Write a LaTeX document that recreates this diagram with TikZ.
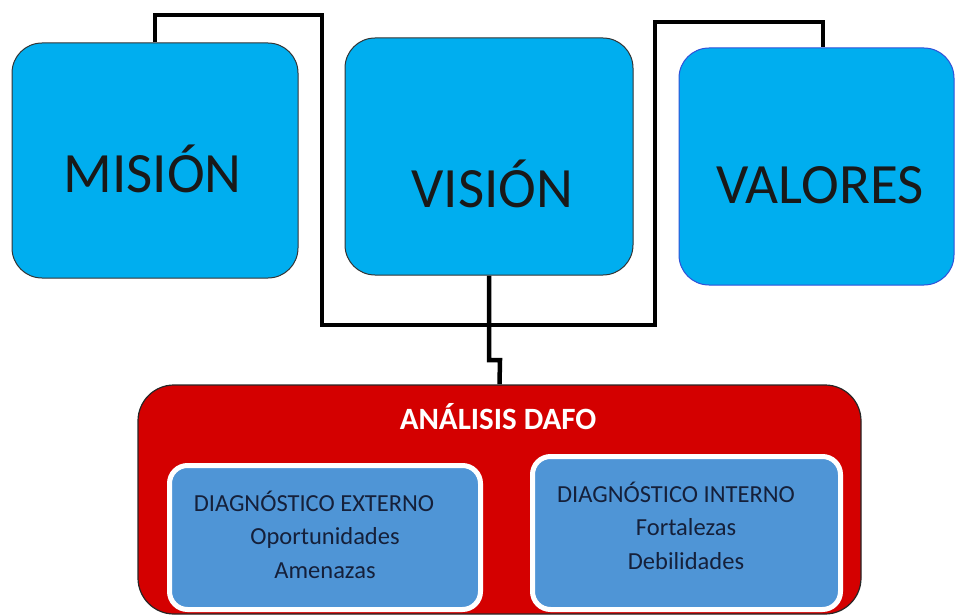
\documentclass[tikz,border=0pt]{standalone}
\usepackage{fontspec}
\setmainfont{Carlito}
\usetikzlibrary{backgrounds,shadows}
\definecolor{skyb}{HTML}{00AEEF}
\definecolor{dred}{HTML}{D40000}
\definecolor{inblue}{HTML}{4F95D6}
\definecolor{navy}{HTML}{15203A}
\definecolor{valedge}{HTML}{3050D8}
\tikzset{
  topbox/.style={draw=black!80, line width=1pt, fill=skyb, rounded corners=30pt, inner sep=0pt},
  bigtxt/.style={anchor=base, inner sep=0pt, text=black!90, font=\fontsize{57}{60}\selectfont},
  redbox/.style={draw=black!85, line width=1.2pt, fill=dred, rounded corners=36pt, inner sep=0pt},
  inbox/.style={draw=white, line width=5pt, fill=inblue, rounded corners=18pt, inner sep=0pt,
    drop shadow={opacity=0.45, shadow xshift=0.8pt, shadow yshift=-1.8pt}},
  smalltxt/.style={anchor=base, inner sep=0pt, text=navy, font=\fontsize{24.5}{28}\selectfont},
  conn/.style={draw=black, line width=4.5pt, line join=miter}
}
\begin{document}
\begin{tikzpicture}[x=1pt,y=-1pt]
\useasboundingbox (0,0) rectangle (956,615);
% top boxes
\node[topbox, minimum width=286pt, minimum height=235pt] (mis) at (155,160.5) {};
\node[topbox, minimum width=288pt, minimum height=237pt] (vis) at (489,156.5) {};
\node[topbox, draw=valedge, minimum width=275pt, minimum height=237pt] (val) at (816.5,166.5) {};
\node[bigtxt] (mist) at (152.5,193) {MISIÓN};
\node[bigtxt] (vist) at (492.5,207) {VISIÓN};
\node[bigtxt] (valt) at (820,203) {VALORES};
% DAFO
\node[redbox, minimum width=723pt, minimum height=229pt] (dafo) at (499.5,499.5) {};
\node[anchor=base, inner sep=0pt, text=white, font=\bfseries\fontsize{31}{34}\selectfont] (dafot) at (498,429) {ANÁLISIS DAFO};
\node[inbox, minimum width=311pt, minimum height=144pt] (ext) at (325,537.5) {};
\node[inbox, minimum width=308pt, minimum height=153pt] (int) at (686.5,533) {};
\node[smalltxt] (ext1) at (314,511) {DIAGNÓSTICO EXTERNO};
\node[smalltxt] (ext2) at (325,544) {Oportunidades};
\node[smalltxt] (ext3) at (325,578) {Amenazas};
\node[smalltxt] (int1) at (676,502) {DIAGNÓSTICO INTERNO};
\node[smalltxt] (int2) at (686,535) {Fortalezas};
\node[smalltxt] (int3) at (686,569) {Debilidades};
% connectors
\coordinate (a2) at (322,15);
\coordinate (a3) at (322,325);
\coordinate (a4) at (655,325);
\coordinate (a5) at (655,22);
\coordinate (b1) at (500,360);
\begin{scope}[on background layer]
\draw[conn] (mis.north) |- (a2) -- (a3) -- (a4) -- (a5) -| ([xshift=6.5pt]val.north);
\draw[conn] (vis.south) |- (b1) -- (dafo.north);
\end{scope}
\end{tikzpicture}
\end{document}
